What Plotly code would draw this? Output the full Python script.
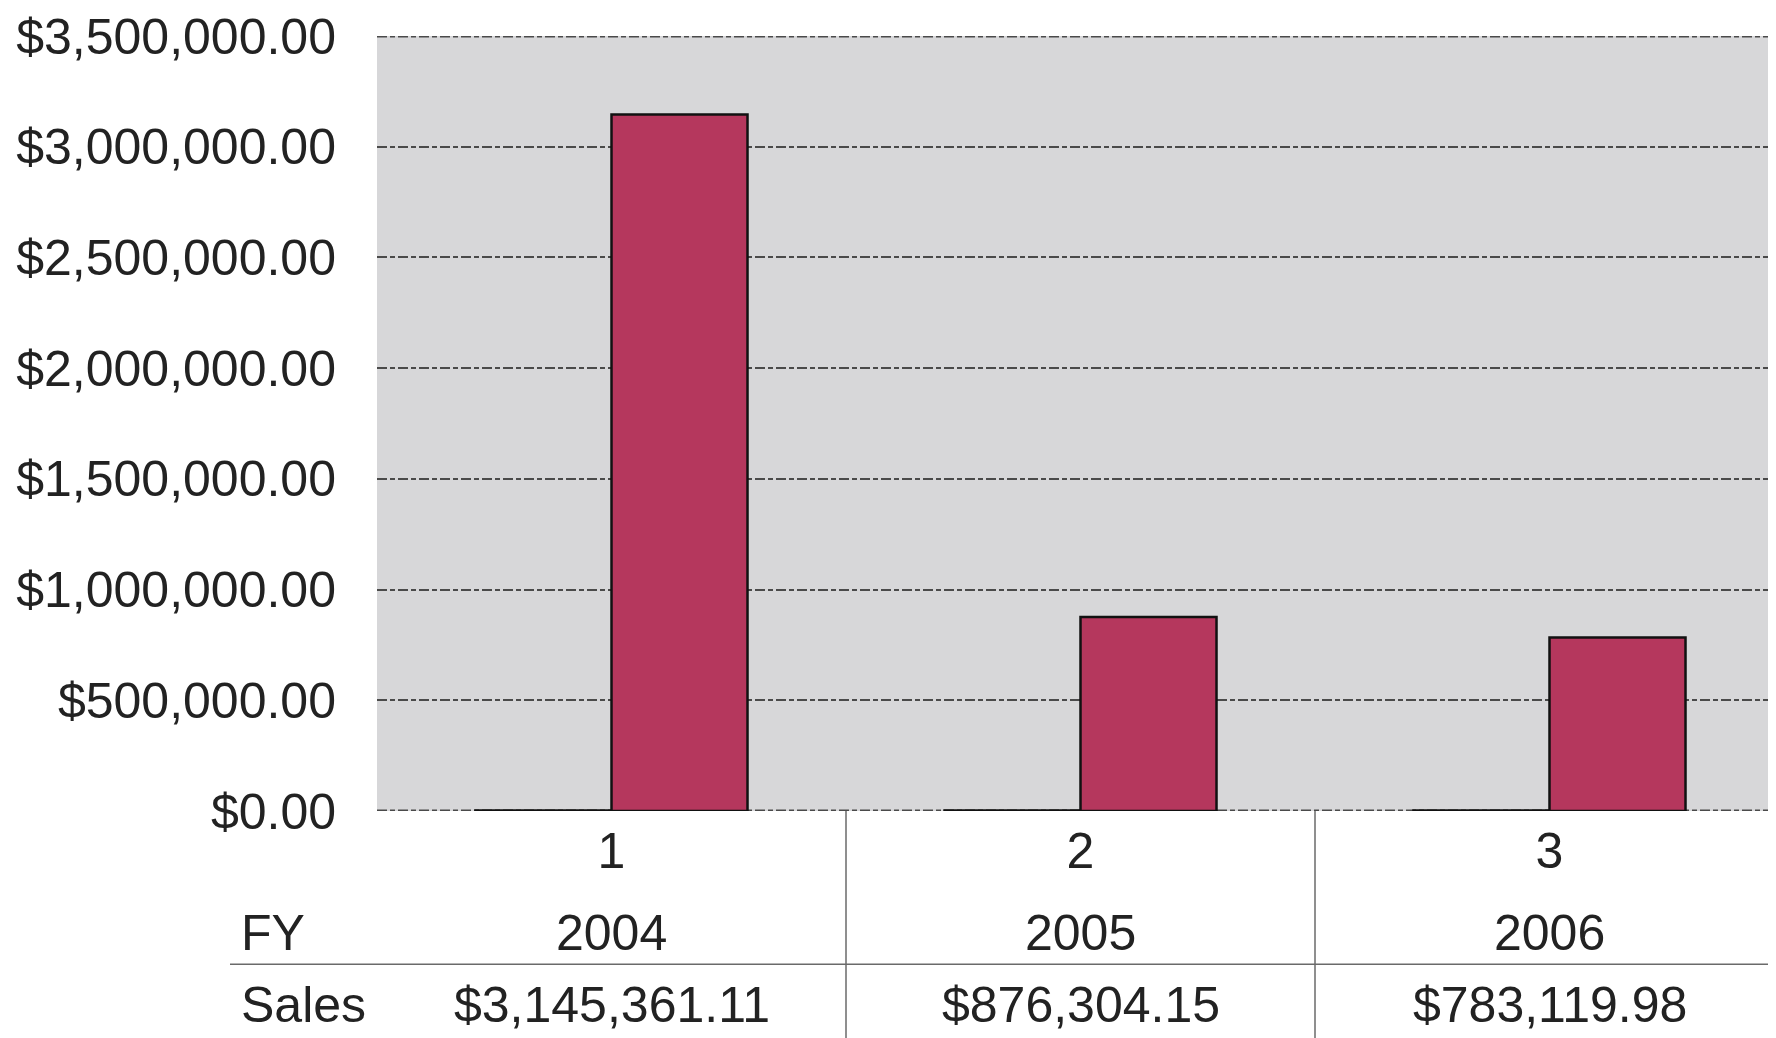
import plotly.graph_objects as go

# Data
categories = [1, 2, 3]
fiscal_years = [2004, 2005, 2006]
sales = [3145361.11, 876304.15, 783119.98]
row_labels = ["FY", "Sales"]
y_ticks = [0, 500000, 1000000, 1500000, 2000000, 2500000, 3000000, 3500000]

W, H = 1776, 1038
OFF = 8  # page body margin
# plot area in page pixels
L, T, B = 377, 32, 811
plot_h = B - T
plot_w = W + OFF - L

FONT = "Liberation Sans, Arial, sans-serif"
TXT = "#222222"
BAR = "#b5375d"
FS = 50
GRID = dict(color="#4a4a4a", width=1.5, dash="10px,3px,5px,3px")


def py(pix):
    # page pixel row -> paper y
    return (B - pix) / plot_h


def px_(pix):
    return (pix - L) / plot_w


fig = go.Figure()
fig.add_trace(go.Bar(x=categories, y=fiscal_years, name=row_labels[0],
                     marker=dict(color=BAR, line=dict(color="#111111", width=2.5))))
fig.add_trace(go.Bar(x=categories, y=sales, name=row_labels[1],
                     marker=dict(color=BAR, line=dict(color="#111111", width=2.5))))

fig.update_layout(
    width=W, height=H,
    margin=dict(l=L - OFF, r=0, t=T - OFF, b=H - (B - OFF), pad=0),
    paper_bgcolor="white",
    plot_bgcolor="#d7d7d9",
    showlegend=False,
    barmode="group",
    bargap=0.42,
    bargroupgap=0,
    font=dict(family=FONT, size=FS, color=TXT),
)

fig.update_yaxes(
    range=[y_ticks[0], y_ticks[-1]], tickvals=y_ticks, tickformat="$,.2f",
    showgrid=True, gridcolor=GRID["color"], gridwidth=GRID["width"], griddash=GRID["dash"],
    zeroline=False, showline=False, ticks="", ticklabelstandoff=40,
    ticklabeloverflow="allow", tickfont=dict(size=FS, color=TXT),
)
fig.update_xaxes(
    range=[0.5, 3.5], tickvals=categories, ticktext=[str(c) for c in categories],
    showgrid=False, zeroline=False, showline=False, ticks="", ticklabelstandoff=6,
    ticklabeloverflow="allow", tickfont=dict(size=FS, color=TXT),
)

# plotly drops gridlines on the plot edges, so draw those two by hand
# (twice as thick because half of the line is clipped)
for v in (y_ticks[0], y_ticks[-1]):
    fig.add_shape(type="line", xref="paper", yref="y", x0=0, x1=1, y0=v, y1=v,
                  layer="below", line=dict(color=GRID["color"], width=3, dash=GRID["dash"]))

# data table under the chart
line_col = "#6a6a6a"
for c in categories[:-1]:
    fig.add_shape(type="line", xref="x", yref="paper", x0=c + 0.5, x1=c + 0.5,
                  y0=0, y1=py(H + 10), line=dict(color=line_col, width=1.5))
fig.add_shape(type="line", xref="paper", yref="paper", x0=px_(230), x1=1.0,
              y0=py(965), y1=py(965), line=dict(color=line_col, width=1.5))

row_y = [934, 1006]
for lab, ry in zip(row_labels, row_y):
    fig.add_annotation(text=lab, xref="paper", yref="paper", x=px_(239), y=py(ry),
                       xanchor="left", yanchor="middle", showarrow=False,
                       font=dict(size=FS, color=TXT, family=FONT))
for c, fy, s in zip(categories, fiscal_years, sales):
    fig.add_annotation(text=str(fy), xref="x", yref="paper", x=c, y=py(row_y[0]),
                       xanchor="center", yanchor="middle", showarrow=False,
                       font=dict(size=FS, color=TXT, family=FONT))
    fig.add_annotation(text=f"${s:,.2f}", xref="x", yref="paper", x=c, y=py(row_y[1]),
                       xanchor="center", yanchor="middle", showarrow=False,
                       font=dict(size=FS, color=TXT, family=FONT))

fig.write_html("out.html")
